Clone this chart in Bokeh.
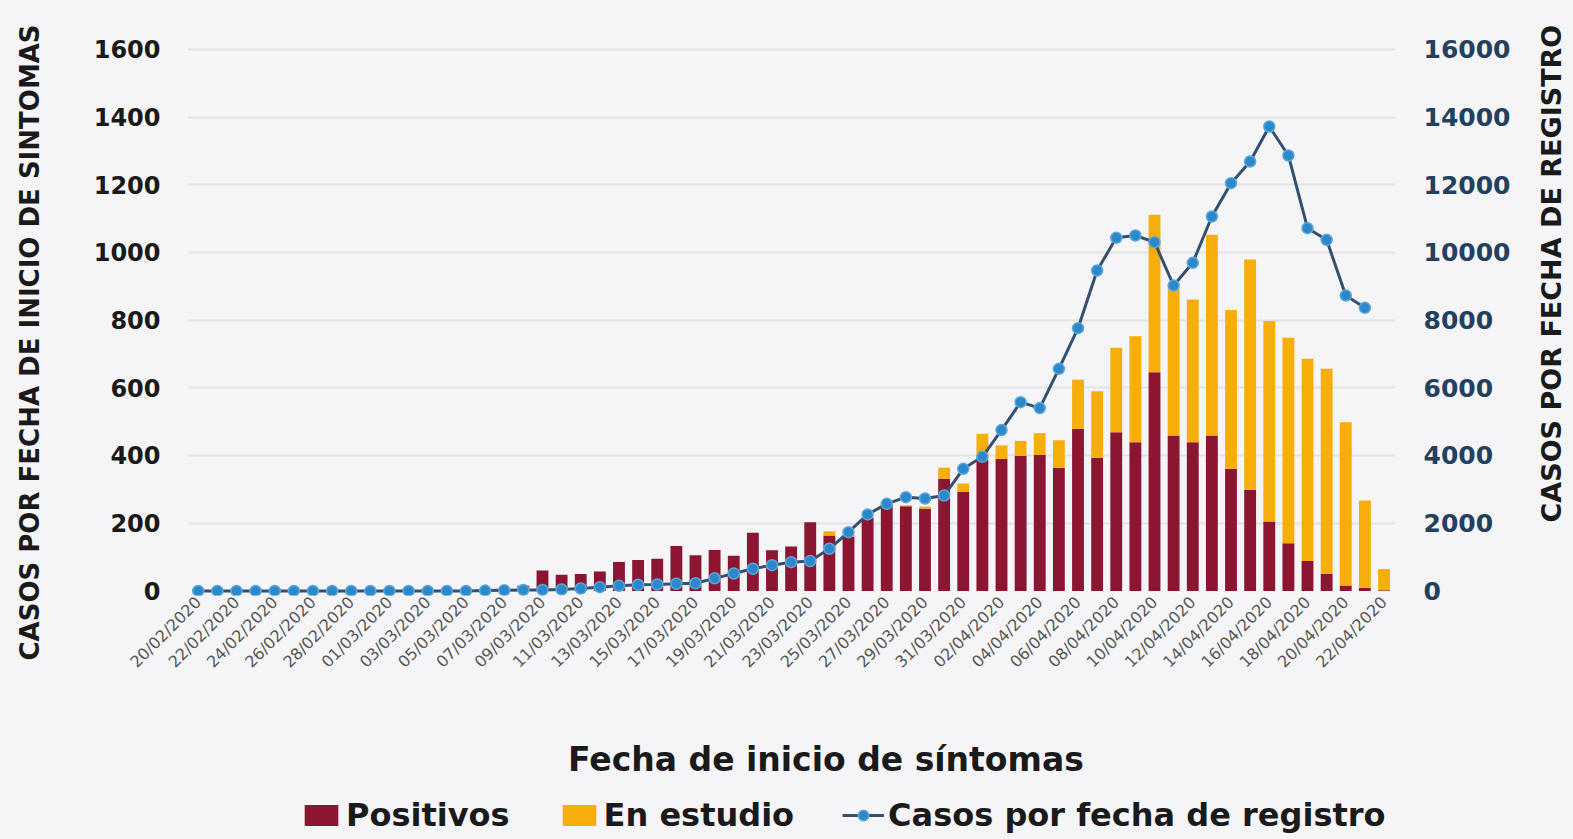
from math import pi
from bokeh.plotting import figure
from bokeh.layouts import row, column
from bokeh.models import (Range1d, LinearAxis, FixedTicker, Legend, LegendItem,
                          Title, ColumnDataSource)
from bokeh.embed import file_html
from bokeh.resources import INLINE

fechas = [
    "20/02/2020", "21/02/2020", "22/02/2020", "23/02/2020", "24/02/2020", "25/02/2020",
    "26/02/2020", "27/02/2020", "28/02/2020", "29/02/2020", "01/03/2020", "02/03/2020",
    "03/03/2020", "04/03/2020", "05/03/2020", "06/03/2020", "07/03/2020", "08/03/2020",
    "09/03/2020", "10/03/2020", "11/03/2020", "12/03/2020", "13/03/2020", "14/03/2020",
    "15/03/2020", "16/03/2020", "17/03/2020", "18/03/2020", "19/03/2020", "20/03/2020",
    "21/03/2020", "22/03/2020", "23/03/2020", "24/03/2020", "25/03/2020", "26/03/2020",
    "27/03/2020", "28/03/2020", "29/03/2020", "30/03/2020", "31/03/2020", "01/04/2020",
    "02/04/2020", "03/04/2020", "04/04/2020", "05/04/2020", "06/04/2020", "07/04/2020",
    "08/04/2020", "09/04/2020", "10/04/2020", "11/04/2020", "12/04/2020", "13/04/2020",
    "14/04/2020", "15/04/2020", "16/04/2020", "17/04/2020", "18/04/2020", "19/04/2020",
    "20/04/2020", "21/04/2020", "22/04/2020",
]

positivos = [
    0, 0, 0, 0, 0, 0, 0, 1, 0, 0, 1, 0, 2, 2, 3, 5, 8, 15,
    60, 48, 50, 57, 85, 91, 95, 133, 105, 121, 104, 172, 120, 131,
    203, 164, 160, 215, 255, 250, 243, 331, 292, 387, 390, 399, 402, 364,
    479, 393, 469, 439, 646, 459, 439, 459, 361, 299, 205, 141, 88, 50,
    16, 9, 2,
]

en_estudio = [
    0, 0, 0, 0, 0, 0, 0, 0, 0, 0, 0, 0, 0, 0, 0, 0, 0, 0,
    0, 0, 0, 0, 0, 0, 0, 0, 0, 0, 0, 0, 0, 0,
    0, 12, 6, 0, 2, 3, 6, 33, 25, 77, 40, 44, 64, 81,
    145, 197, 249, 313, 465, 433, 422, 593, 469, 680, 592, 607, 598, 606,
    482, 258, 63,
]

registro = [
    0, 0, 0, 0, 0, 0, 0, 0, 0, 0, 0, 0, 0, 0, 0, 10, 20, 30,
    30, 40, 70, 110, 150, 180, 190, 210, 225, 370, 515, 655, 760, 848,
    880, 1244, 1734, 2260, 2573, 2768, 2730, 2818, 3607, 3960, 4750, 5575, 5400, 6561,
    7762, 9466, 10431, 10499, 10302, 9022, 9692, 11060, 12045, 12685, 13720, 12863, 10715, 10372,
    8727, 8363,
]

left_ticks = [0, 200, 400, 600, 800, 1000, 1200, 1400, 1600]
right_ticks = [0, 2000, 4000, 6000, 8000, 10000, 12000, 14000, 16000]

RED = "#8c1632"
YEL = "#f7ae0a"
LINE = "#34506e"
MK = "#2b88c9"
MKL = "#5aa8de"
BG = "#f5f5f7"
FONT = "DejaVu Sans"
NB = "\u00a0"

W_LEFT, W_MAIN, W_SIDE, H_MAIN, H_LEG = 58, 1474, 41, 795, 44

idx = list(range(len(fechas)))
xr = idx[:len(registro)]
src = ColumnDataSource(dict(x=idx, positivos=positivos, en_estudio=en_estudio))


def label_strip(width, text, offset, standoff, size):
    f = figure(width=width, height=H_MAIN, output_backend="svg", toolbar_location=None,
               x_range=Range1d(0, 1), y_range=Range1d(0, 1),
               x_axis_location=None, y_axis_location=None, min_border=0)
    f.background_fill_color = BG
    f.border_fill_color = BG
    f.outline_line_color = None
    f.grid.visible = False
    f.add_layout(Title(text=text, align="left", offset=offset,
                       text_font=FONT, text_font_style="bold", text_font_size=size,
                       text_color="#1a1a1a", standoff=standoff), "left")
    return f


# ---------------- main chart ----------------
p = figure(width=W_MAIN, height=H_MAIN, output_backend="svg", toolbar_location=None,
           x_range=Range1d(-0.56, 62.6), y_range=Range1d(-13.6, 1626),
           min_border_left=187 - W_LEFT, min_border_right=W_MAIN + W_LEFT - 1395,
           min_border_top=40, min_border_bottom=200)
p.background_fill_color = BG
p.border_fill_color = BG
p.outline_line_color = None

bars = p.vbar_stack(["positivos", "en_estudio"], x="x", width=0.62,
                    color=[RED, YEL], line_color=None, source=src)

p.extra_y_ranges = {"reg": Range1d(-136, 16260)}
rax = LinearAxis(y_range_name="reg", ticker=FixedTicker(ticks=right_ticks))
p.add_layout(rax, "right")

ln = p.line(xr, registro, y_range_name="reg", line_color=LINE, line_width=3)
sc = p.scatter(xr, registro, y_range_name="reg", size=11, fill_color=MK,
               line_color=MKL, line_width=1.5)

lax = p.left[0]
lax.ticker = FixedTicker(ticks=left_ticks)
lax.major_label_text_font = FONT
lax.major_label_text_font_style = "bold"
lax.major_label_text_font_size = "24px"
lax.major_label_text_color = "#1a1a1a"
lax.major_label_standoff = 27

rax.major_label_text_font = FONT
rax.major_label_text_font_style = "bold"
rax.major_label_text_font_size = "25px"
rax.major_label_text_color = "#23405e"
rax.major_label_standoff = 28

xax = p.xaxis[0]
xax.ticker = FixedTicker(ticks=idx[::2])
xax.major_label_overrides = {i: fechas[i] for i in idx[::2]}
xax.major_label_orientation = pi / 4
xax.major_label_text_font = FONT
xax.major_label_text_font_size = "16px"
xax.major_label_text_color = "#555555"
xax.major_label_standoff = 4
xax.axis_label = NB * 6 + "Fecha de inicio de síntomas"
xax.axis_label_text_font = FONT
xax.axis_label_text_font_style = "bold"
xax.axis_label_text_font_size = "33px"
xax.axis_label_text_color = "#1a1a1a"
xax.axis_label_standoff = 59

for ax in (lax, rax, xax):
    ax.axis_line_color = None
    ax.major_tick_line_color = None
    ax.minor_tick_line_color = None
    ax.major_tick_out = 0
    ax.major_tick_in = 0

p.xgrid.visible = False
p.ygrid.ticker = FixedTicker(ticks=left_ticks[1:])
p.ygrid.grid_line_color = "#e3e3e6"
p.ygrid.grid_line_width = 2

# ---------------- axis titles (both read bottom to top) ----------------
pl = label_strip(W_LEFT, "CASOS POR FECHA DE INICIO DE SINTOMAS", -65, 24, "26px")
pr = label_strip(W_SIDE, "CASOS POR FECHA DE REGISTRO", 73, 2, "27px")

# ---------------- legend strip ----------------
p3 = figure(width=W_LEFT + W_MAIN + W_SIDE, height=H_LEG, output_backend="svg",
            toolbar_location=None, x_range=Range1d(100, 101), y_range=Range1d(100, 101),
            x_axis_location=None, y_axis_location=None, min_border=0)
p3.background_fill_color = BG
p3.border_fill_color = BG
p3.outline_line_color = None
p3.grid.visible = False
k1 = p3.vbar(x="x", top="positivos", source=src, width=0.62, fill_color=RED,
             line_color=None, visible=False)
k2 = p3.vbar(x="x", top="en_estudio", source=src, width=0.62, fill_color=YEL,
             line_color=None, visible=False)
k3 = p3.line(xr, registro, line_color=LINE, line_width=3, visible=False)
k4 = p3.scatter(xr, registro, size=11, fill_color=MK, line_color=MKL,
                line_width=1.5, visible=False)

legend = Legend(items=[
    LegendItem(label="Positivos", renderers=[k1]),
    LegendItem(label="En estudio", renderers=[k2]),
    LegendItem(label="Casos por fecha de registro", renderers=[k3, k4]),
], orientation="horizontal", location=(300, 5))
legend.label_text_font = FONT
legend.label_text_font_style = "bold"
legend.label_text_font_size = "32px"
legend.label_text_color = "#1a1a1a"
legend.glyph_width = 42
legend.glyph_height = 26
legend.label_standoff = 4
legend.spacing = 48
legend.padding = 0
legend.margin = 0
legend.border_line_color = None
legend.background_fill_alpha = 0
legend.inactive_fill_alpha = 0
p3.add_layout(legend)

top_row = row(pl, p, pr, spacing=0, styles={"background-color": BG})
layout = column(top_row, p3, spacing=0, styles={"background-color": BG})
open("out.html", "w").write(file_html(layout, INLINE))
